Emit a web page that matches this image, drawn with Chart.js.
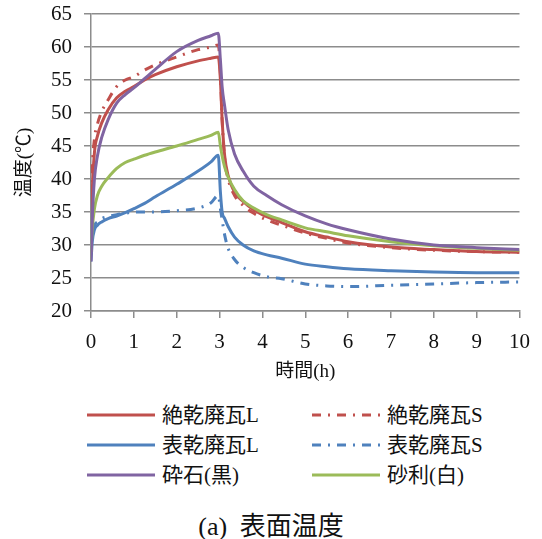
<!DOCTYPE html>
<html>
<head>
<meta charset="utf-8">
<script src="https://cdn.jsdelivr.net/npm/chart.js@4"></script>
<style>
  body { margin: 0; background: #fff; }
  #wrap { position: relative; width: 542px; height: 539px; }
  #legend { position: absolute; left: 0; top: 400px; width: 542px; height: 90px;
            font-family: "Liberation Serif", "Noto Sans CJK JP", serif; font-size: 21px; color: #111; }
  .item { position: absolute; height: 30px; line-height: 30px; }
  .item svg { position: absolute; left: 0; top: 13px; }
  .item span { position: absolute; left: 75px; top: 0; white-space: nowrap; }
  #caption { position: absolute; left: 0; width: 542px; top: 505px; text-align: center;
             font-family: "Liberation Serif", "Noto Sans CJK JP", serif; font-size: 26px; color: #111;
             word-spacing: 6px; }
</style>
</head>
<body>
<div id="wrap">
  <canvas id="tempChart" width="542" height="392"></canvas>
  <div id="legend"></div>
  <div id="caption">(a) 表面温度</div>
</div>
<script>
// time (h)
var times = [0, 0.03, 0.08, 0.15, 0.25, 0.4, 0.6, 0.8, 1, 1.25, 1.5, 2, 2.5, 2.8, 2.97,
             3.02, 3.06, 3.12, 3.2, 3.35, 3.55, 3.8, 4.1, 4.45, 5, 5.5, 6, 7, 8, 9, 10];

var seriesNames = ["絶乾廃瓦L", "絶乾廃瓦S", "表乾廃瓦L", "表乾廃瓦S", "砕石(黒)", "砂利(白)"];

var redL = [29, 38, 44, 46.5, 48.5, 50.5, 52.3, 53.3, 54, 55, 55.8, 57, 57.9, 58.3, 58.5,
            55, 49, 43.5, 40.5, 38, 36.6, 35.3, 34.3, 33.4, 32, 31.2, 30.5, 29.7, 29.3, 29.0, 28.9];
var redS = [29.5, 41, 46, 48.3, 50.2, 52, 54, 55, 55.5, 56.5, 57.3, 58.5, 59.6, 60, 60.3,
            56, 49, 43, 40, 37.5, 36, 34.8, 33.8, 33, 31.8, 31, 30.3, 29.6, 29.2, 29, 28.9];
var blueL = [27.5, 30.5, 32.3, 33, 33.5, 34, 34.4, 34.9, 35.5, 36.3, 37.3, 39.2, 41.2, 42.6, 43.6,
             38, 35, 34, 32.8, 31.2, 30, 29.1, 28.5, 28, 27.1, 26.7, 26.4, 26.1, 25.9, 25.8, 25.8];
var blueS = [28.5, 31.5, 33, 33.5, 34, 34.3, 34.6, 34.8, 35, 35, 35, 35.2, 35.6, 36.4, 37.5,
             35.5, 33.8, 31.5, 29.5, 27.8, 26.6, 25.8, 25.2, 24.9, 24.1, 23.8, 23.7, 23.9, 24.1, 24.3, 24.4];
var purple = [27.5, 34, 40, 43.5, 46.3, 49, 51.5, 52.8, 53.8, 55.2, 56.6, 59.3, 61, 61.7, 62.1,
              58, 54, 51, 47.5, 43.8, 41.2, 38.9, 37.5, 36.1, 34.4, 33.2, 32.3, 30.9, 30, 29.6, 29.3];
var green = [29, 32.5, 35.5, 37.5, 38.9, 40.2, 41.6, 42.5, 43, 43.6, 44.1, 45, 46, 46.6, 47.1,
             45, 43.5, 41.8, 40.3, 38.4, 36.7, 35.6, 34.6, 33.8, 32.6, 32, 31.4, 30.5, 29.9, 29.5, 29.2];

var yTicks = [20, 25, 30, 35, 40, 45, 50, 55, 60, 65];
var xTicks = [0, 1, 2, 3, 4, 5, 6, 7, 8, 9, 10];

var colors = ["#c0504d", "#c0504d", "#4f81bd", "#4f81bd", "#8064a2", "#9bbb59"];
var dashes = [[], [9, 7, 2, 7], [], [9, 7, 2, 7], [], []];
var allValues = [redL, redS, blueL, blueS, purple, green];

function toPoints(vals) {
    return times.map(function (t, i) { return { x: t, y: vals[i] }; });
}

var datasets = seriesNames.map(function (name, i) {
    return {
        label: name,
        data: toPoints(allValues[i]),
        borderColor: colors[i],
        borderWidth: 3,
        borderDash: dashes[i],
        pointRadius: 0,
        cubicInterpolationMode: "monotone",
        fill: false,
        order: [3, 2, 5, 4, 0, 1][i]
    };
});

var gridColor = "#8c8c8c";
var tickFont = { family: "'Liberation Serif', serif", size: 21 };
var titleFont = { family: "'Liberation Serif', 'Noto Sans CJK JP', serif", size: 19 };

new Chart(document.getElementById("tempChart"), {
    type: "line",
    data: { datasets: datasets },
    options: {
        responsive: false,
        animation: false,
        layout: { padding: { top: 14, right: 22, left: 0, bottom: 0 } },
        plugins: { legend: { display: false }, tooltip: { enabled: false } },
        scales: {
            x: {
                type: "linear",
                min: 0, max: 10,
                afterBuildTicks: function (s) { s.ticks = xTicks.map(function (v) { return { value: v }; }); },
                afterFit: function (s) { s.height = 81; },
                grid: { drawOnChartArea: false, drawTicks: true, tickLength: 7, color: gridColor, lineWidth: 1.5 },
                border: { color: gridColor, width: 1.5 },
                ticks: { color: "#111", font: tickFont, padding: 12, maxRotation: 0 },
                title: { display: true, text: "時間(h)", color: "#111", font: titleFont,
                         padding: { top: 2, bottom: 9 } }
            },
            y: {
                min: 20, max: 65,
                afterBuildTicks: function (s) { s.ticks = yTicks.map(function (v) { return { value: v }; }); },
                afterFit: function (s) { s.width = 91; s.paddingTop = 0; s.paddingBottom = 0; },
                grid: { color: gridColor, lineWidth: 1.5, tickLength: 7 },
                border: { color: gridColor, width: 1.5 },
                ticks: { color: "#111", font: tickFont, padding: 12 },
                title: { display: true, text: "温度(℃)", color: "#111", font: titleFont,
                         padding: { top: 14, bottom: 0 } }
            }
        }
    }
});

// two-column legend below the chart
var legendBox = document.getElementById("legend");
var colX = [87, 312];
seriesNames.forEach(function (name, i) {
    var item = document.createElement("div");
    item.className = "item";
    item.style.left = colX[i % 2] + "px";
    item.style.top = (Math.floor(i / 2) * 30) + "px";
    var dash = dashes[i].length ? ' stroke-dasharray="' + dashes[i].join(" ") + '"' : "";
    item.innerHTML = '<svg width="70" height="4"><line x1="0" y1="2" x2="68" y2="2" stroke="' +
        colors[i] + '" stroke-width="3"' + dash + '/></svg><span>' + name + '</span>';
    legendBox.appendChild(item);
});
</script>
</body>
</html>
